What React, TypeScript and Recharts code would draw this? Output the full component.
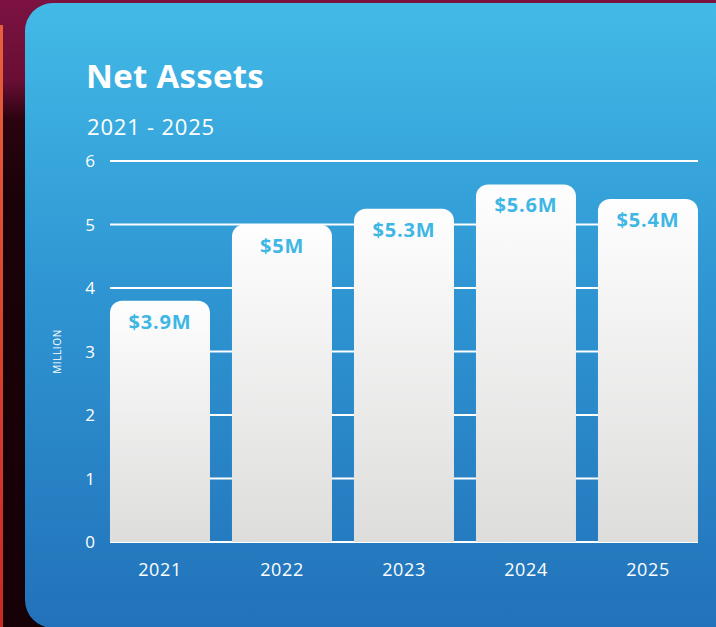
import React from "react";
import { BarChart, Bar, XAxis, YAxis, CartesianGrid, LabelList } from "recharts";

const years = ["2021", "2022", "2023", "2024", "2025"];
const netAssets = [3.8, 5.0, 5.25, 5.63, 5.4];
const valueLabels = ["$3.9M", "$5M", "$5.3M", "$5.6M", "$5.4M"];
const yTicks = [0, 1, 2, 3, 4, 5, 6];
const yAxisTitle = "MILLION";

const data = years.map((y, i) => ({ year: y, value: netAssets[i], label: valueLabels[i] }));

const FONT = "'Open Sans', 'Lato', sans-serif";

const BarLabel = (props: any) => {
  const { x, y, width, value } = props;
  return (
    <text
      x={x + width / 2}
      y={y + 28}
      textAnchor="middle"
      fill="#3fb7e4"
      fontFamily={FONT}
      fontWeight={700}
      fontSize={20}
      letterSpacing={0.8}
    >
      {value}
    </text>
  );
};

const AxisTitle = (props: any) => {
  const vb = props.viewBox || {};
  const cx = 61;
  const cy = (vb.y || 0) + (vb.height || 0) / 2;
  return (
    <text
      x={cx}
      y={cy}
      transform={`rotate(-90 ${cx} ${cy})`}
      textAnchor="middle"
      fill="#ffffff"
      fontFamily={FONT}
      fontSize={10}
      letterSpacing={0.6}
    >
      {yAxisTitle}
    </text>
  );
};

export default function App() {
  return (
    <div
      style={{
        position: "fixed",
        left: 0,
        top: 0,
        width: 716,
        height: 627,
        overflow: "hidden",
        background: "linear-gradient(180deg, #7c1241 0px, #6a0e35 80px, #2a030f 120px, #1a0208 200px, #160106 627px)",
      }}
    >
      <div style={{ position: "absolute", left: 0, top: 25, width: 3, height: 602, background: "linear-gradient(180deg,#e8603a,#c82a22)" }} />
      <div
        style={{
          position: "absolute",
          left: 25,
          top: 3,
          width: 720,
          height: 625,
          borderRadius: 28,
          background: "linear-gradient(180deg, #42bae6 0%, #2f96d3 45%, #2272b9 100%)",
        }}
      />
      <div
        style={{
          position: "absolute",
          left: 86,
          top: 53,
          color: "#fff",
          fontFamily: FONT,
          fontWeight: 700,
          fontSize: 33,
          letterSpacing: 0.3,
        }}
      >
        Net Assets
      </div>
      <div
        style={{
          position: "absolute",
          left: 87,
          top: 111,
          color: "#fff",
          fontFamily: FONT,
          fontSize: 22,
          letterSpacing: 0.8,
        }}
      >
        2021 - 2025
      </div>
      <div style={{ position: "absolute", left: 0, top: 0 }}>
        <BarChart
          width={716}
          height={627}
          data={data}
          margin={{ top: 161, right: 18, bottom: 0, left: 0 }}
          barCategoryGap="9%"
        >
          <defs>
            <linearGradient id="barGrad" x1="0" y1="0" x2="0" y2="1">
              <stop offset="0%" stopColor="#fefefe" />
              <stop offset="100%" stopColor="#dddddc" />
            </linearGradient>
          </defs>
          <CartesianGrid vertical={false} stroke="#ffffff" strokeWidth={2} />
          <XAxis
            dataKey="year"
            axisLine={false}
            tickLine={false}
            tickSize={0}
            tickMargin={21}
            height={85}
            padding={{ left: -11, right: -11 }}
            tick={{ fill: "#ffffff", fontSize: 18, fontFamily: FONT, letterSpacing: 0.6 }}
          />
          <YAxis
            domain={[0, 6]}
            ticks={yTicks}
            width={110}
            axisLine={false}
            tickLine={false}
            tickSize={0}
            tickMargin={15}
            tick={{ fill: "#ffffff", fontSize: 17, fontFamily: FONT }}
            label={{ value: yAxisTitle, position: "insideLeft", content: AxisTitle }}
          />
          <Bar dataKey="value" fill="url(#barGrad)" radius={[12, 12, 0, 0]} isAnimationActive={false}>
            <LabelList dataKey="label" content={BarLabel} />
          </Bar>
        </BarChart>
      </div>
    </div>
  );
}
